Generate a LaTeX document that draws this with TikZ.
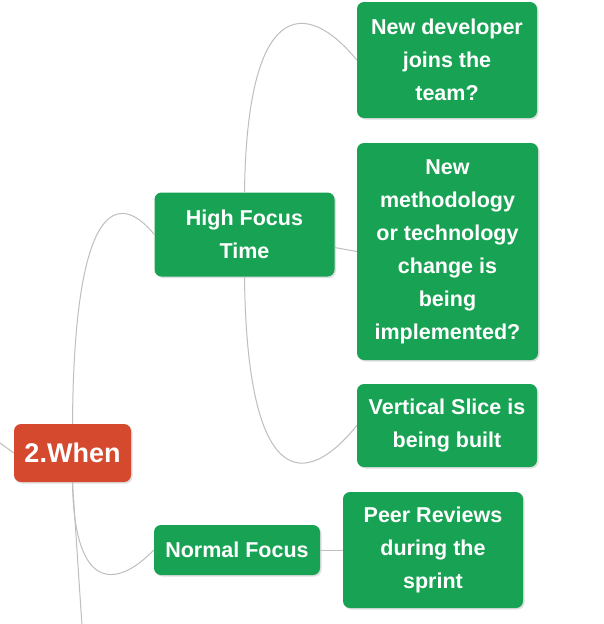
\documentclass[tikz,border=0pt]{standalone}
\usepackage{fontspec}
\setmainfont{Liberation Sans}
\usetikzlibrary{shadows,calc}
\definecolor{mmgreen}{RGB}{24,163,84}
\definecolor{mmred}{RGB}{213,73,47}
\definecolor{mmline}{RGB}{190,190,190}
\begin{document}
\begin{tikzpicture}[x=1pt,y=-1pt,
  basebox/.style={rounded corners=7pt, text=white, align=center, inner sep=0pt,
    drop shadow={opacity=0.25,shadow xshift=1.5pt,shadow yshift=-1.5pt}},
  leafbox/.style={basebox, fill=mmgreen, font=\fontsize{21.5}{33}\selectfont\bfseries},
  rootbox/.style={basebox, fill=mmred, font=\fontsize{27}{33}\selectfont\bfseries},
  conn/.style={draw=mmline, line width=1pt}]
\useasboundingbox (0,0) rectangle (604,624);
\fill[white] (0,0) rectangle (604,624);

\node[rootbox, minimum width=117pt, minimum height=58pt] (when) at (72.5,453) {2.When};
\node[leafbox, minimum width=180pt, minimum height=84pt] (hf) at (244.5,234.5) {High Focus\\Time};
\node[leafbox, minimum width=180pt, minimum height=116pt] (nd) at (447,60) {New developer\\joins the\\team?};
\node[leafbox, minimum width=181pt, minimum height=217pt] (nm) at (447.5,251.5) {New\\methodology\\or technology\\change is\\being\\implemented?};
\node[leafbox, minimum width=180pt, minimum height=83pt] (vs) at (447,425.5) {Vertical Slice is\\being built};
\node[leafbox, minimum width=166pt, minimum height=50pt] (nf) at (237,550) {Normal Focus};
\node[leafbox, minimum width=180pt, minimum height=116pt] (pr) at (433,550) {Peer Reviews\\during the\\sprint};

\coordinate (inleft) at (0,443);
\coordinate (outbottom) at (82,626);

\draw[conn] (inleft) -- (when.west);
\draw[conn] (when.north) .. controls (74,200) and (118,190) .. (hf.west);
\draw[conn] (when.south) .. controls (74,590) and (115,590) .. (nf.west);
\draw[conn] (when.south) -- (outbottom);
\draw[conn] (hf.north) .. controls (247,0) and (305,-3) .. (nd.west);
\draw[conn] ($(hf.east)+(0,13)$) -- (nm.west);
\draw[conn] (hf.south) .. controls (247,490) and (305,490) .. (vs.west);
\draw[conn] (nf.east) -- (pr.west);
\end{tikzpicture}
\end{document}
